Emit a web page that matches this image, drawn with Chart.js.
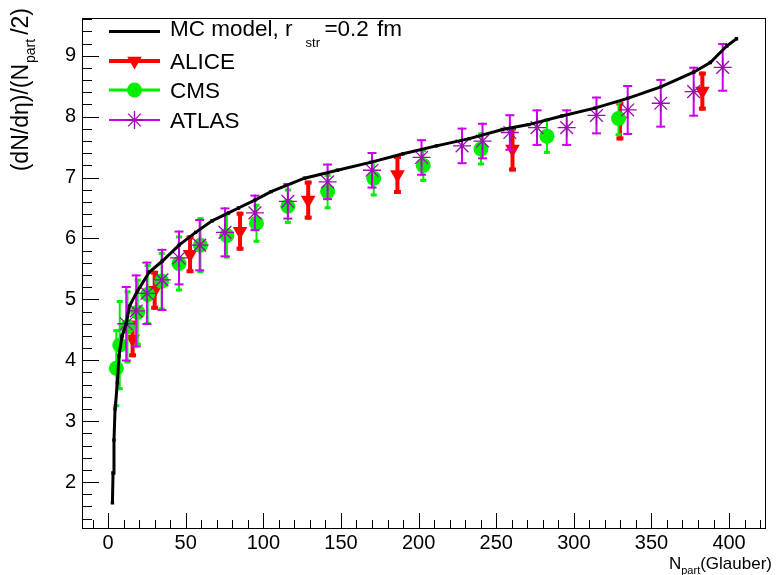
<!DOCTYPE html>
<html>
<head>
<meta charset="utf-8">
<script src="https://cdn.jsdelivr.net/npm/chart.js@4.4.1/dist/chart.umd.min.js"></script>
<style>
  html, body { margin: 0; padding: 0; background: #fff; }
  #c { display: block; }
</style>
</head>
<body>
<canvas id="c" width="776" height="575"></canvas>
<script>
// MC model curve: charged multiplicity per participant pair vs N_part
const MC_NPART = [2.8, 3.2, 3.8, 4.5, 6.0, 7.0, 9.0, 11.7, 13.8, 19.0, 26.6, 35.0, 45.7, 56.4, 67.0,
                  77.6, 84.0, 94.6, 105.0, 126.5, 147.7, 169.0, 190.0, 211.5, 232.7, 254.0, 271.0,
                  292.3, 313.5, 334.7, 356.0, 377.2, 387.9, 398.5, 404.8];
const MC_VALUE = [1.66, 2.15, 2.69, 3.20, 3.63, 4.07, 4.40, 4.60, 4.89, 5.14, 5.45, 5.63, 5.89, 6.10, 6.29,
                  6.42, 6.50, 6.63, 6.77, 6.99, 7.12, 7.25, 7.39, 7.52, 7.64, 7.79, 7.87,
                  8.01, 8.14, 8.30, 8.49, 8.73, 8.89, 9.16, 9.28];

// ALICE Pb-Pb data
const ALICE_NPART = [15.8, 30.0, 52.8, 85.0, 128.9, 186.4, 260.5, 329.7, 382.8];
const ALICE_VALUE = [4.35, 5.15, 5.74, 6.12, 6.63, 7.05, 7.47, 7.93, 8.42];
const ALICE_ERR   = [0.30, 0.32, 0.31, 0.32, 0.32, 0.32, 0.37, 0.32, 0.32];

// CMS Pb-Pb data
const CMS_NPART = [5.3, 7.5, 12.5, 19.1, 25.5, 34.5, 45.7, 59.5, 76.5, 95.6, 115.8, 141.4, 171.1, 203.0, 240.2, 282.7, 328.8];
const CMS_VALUE = [3.87, 4.25, 4.55, 4.79, 5.08, 5.30, 5.59, 5.89, 6.05, 6.25, 6.53, 6.77, 6.99, 7.20, 7.47, 7.68, 7.97];
const CMS_ERR   = [0.64, 0.74, 0.60, 0.55, 0.50, 0.48, 0.46, 0.46, 0.38, 0.32, 0.29, 0.29, 0.30, 0.27, 0.27, 0.29, 0.29];

// ATLAS Pb-Pb data
const ATLAS_NPART = [11.7, 18.1, 25.0, 34.7, 45.7, 59.0, 75.3, 94.6, 115.8, 141.4, 170.0, 201.9, 228.0, 241.2,
                     258.8, 276.3, 295.4, 314.6, 334.7, 356.0, 377.2, 395.9];
const ATLAS_VALUE = [4.60, 4.81, 5.10, 5.32, 5.68, 5.89, 6.10, 6.42, 6.61, 6.93, 7.12, 7.33, 7.52, 7.60,
                     7.74, 7.82, 7.82, 8.02, 8.11, 8.22, 8.41, 8.81];
const ATLAS_ERR   = [0.62, 0.60, 0.52, 0.51, 0.45, 0.43, 0.41, 0.30, 0.30, 0.30, 0.30, 0.30, 0.30, 0.30,
                     0.30, 0.30, 0.30, 0.31, 0.41, 0.40, 0.41, 0.40];

// Axis ticks
const X_TICKS = [0, 50, 100, 150, 200, 250, 300, 350, 400];
const Y_TICKS = [2, 3, 4, 5, 6, 7, 8, 9];
const X_MINOR_STEP = 10;
const Y_MINOR_STEP = 0.2;

const FONT = '"Liberation Sans", Arial, Helvetica, sans-serif';
const RED = '#ff0000', GREEN = '#00ee00', VIOLET = '#cc00ee', VIOLET_DARK = '#9c0cb0';

const pts = (xs, ys) => xs.map((x, i) => ({ x, y: ys[i] }));

// vertical error bars with end caps, drawn beneath each dataset's markers
function drawErrors(chart, ds) {
  const ctx = chart.ctx, xs = chart.scales.x, ys = chart.scales.y, st = ds.errStyle;
  const a = chart.chartArea;
  ctx.save();
  ctx.beginPath();
  ctx.rect(a.left, a.top, a.right - a.left, a.bottom - a.top);
  ctx.clip();
  ctx.fillStyle = st.color;
  ds.data.forEach((p, i) => {
    const px = xs.getPixelForValue(p.x);
    const top = ys.getPixelForValue(p.y + ds.errors[i]);
    const bot = ys.getPixelForValue(p.y - ds.errors[i]);
    ctx.fillRect(px - st.width / 2, top, st.width, bot - top);
    ctx.fillRect(px - st.cap / 2, top, st.cap, st.capH);
    ctx.fillRect(px - st.cap / 2, bot - st.capH, st.cap, st.capH);
  });
  ctx.restore();
}

function drawMarker(ctx, style, x, y) {
  ctx.save();
  if (style === 'triangleDown') {
    const r = 8.5;
    ctx.fillStyle = RED;
    ctx.beginPath();
    ctx.moveTo(x - r * 0.866, y - r * 0.5);
    ctx.lineTo(x + r * 0.866, y - r * 0.5);
    ctx.lineTo(x, y + r);
    ctx.closePath();
    ctx.fill();
  } else if (style === 'circle') {
    ctx.fillStyle = GREEN;
    ctx.beginPath();
    ctx.arc(x, y, 7.5, 0, Math.PI * 2);
    ctx.fill();
  } else if (style === 'star') {
    const r = 9;
    ctx.strokeStyle = VIOLET_DARK;
    ctx.lineWidth = 1.3;
    ctx.beginPath();
    ctx.moveTo(x - r, y); ctx.lineTo(x + r, y);
    ctx.moveTo(x, y - r); ctx.lineTo(x, y + r);
    const d = r * Math.SQRT1_2;
    ctx.moveTo(x - d, y - d); ctx.lineTo(x + d, y + d);
    ctx.moveTo(x - d, y + d); ctx.lineTo(x + d, y - d);
    ctx.stroke();
  }
  ctx.restore();
}

// text runs [text, isSub, gapAfter]
function runWidth(ctx, runs, size, subSize) {
  let w = 0;
  runs.forEach(r => {
    ctx.font = (r[1] ? subSize : size) + 'px ' + FONT;
    w += ctx.measureText(r[0]).width + (r[2] || 0);
  });
  return w;
}
function drawRuns(ctx, runs, x, y, size, subSize, subDrop) {
  runs.forEach(r => {
    ctx.font = (r[1] ? subSize : size) + 'px ' + FONT;
    ctx.fillText(r[0], x, r[1] ? y + subDrop : y);
    x += ctx.measureText(r[0]).width + (r[2] || 0);
  });
}

const decorations = {
  id: 'decorations',
  beforeDatasetDraw(chart, args) {
    const ds = chart.data.datasets[args.index];
    if (ds.errors) drawErrors(chart, ds);
  },
  afterDraw(chart) {
    const ctx = chart.ctx, a = chart.chartArea, xs = chart.scales.x, ys = chart.scales.y;
    ctx.save();
    // frame
    ctx.strokeStyle = '#000';
    ctx.lineWidth = 1;
    ctx.strokeRect(Math.round(a.left) + 0.5, Math.round(a.top) + 0.5,
                   Math.round(a.right - a.left) - 1, Math.round(a.bottom - a.top) - 1);
    // inward ticks, x axis
    ctx.beginPath();
    const x0 = Math.ceil(xs.min / X_MINOR_STEP) * X_MINOR_STEP;
    for (let v = x0; v <= xs.max + 1e-9; v += X_MINOR_STEP) {
      const major = Math.abs(v / 50 - Math.round(v / 50)) < 1e-6;
      const px = Math.round(xs.getPixelForValue(v)) + 0.5;
      ctx.moveTo(px, a.bottom);
      ctx.lineTo(px, a.bottom - (major ? 16 : 9));
    }
    // inward ticks, y axis
    const y0 = Math.ceil(ys.min / Y_MINOR_STEP) * Y_MINOR_STEP;
    for (let v = y0; v <= ys.max + 1e-9; v += Y_MINOR_STEP) {
      const major = Math.abs(v - Math.round(v)) < 1e-6;
      const py = Math.round(ys.getPixelForValue(v)) + 0.5;
      ctx.moveTo(a.left, py);
      ctx.lineTo(a.left + (major ? 17 : 10), py);
    }
    ctx.stroke();

    // axis titles
    ctx.fillStyle = '#000';
    ctx.textBaseline = 'alphabetic';
    ctx.textAlign = 'left';
    const xt = [['N', false, 0], ['part', true, 0], ['(Glauber)', false, 0]];
    const xw = runWidth(ctx, xt, 17, 11);
    drawRuns(ctx, xt, 772 - xw, 569, 17, 11, 5);

    const yt = [['(dN/d\u03b7)/(N', false, 1], ['part', true, 4], ['/2)', false, 0]];
    const yw = runWidth(ctx, yt, 23, 14);
    ctx.save();
    ctx.translate(28, 8 + yw);
    ctx.rotate(-Math.PI / 2);
    drawRuns(ctx, yt, 0, 0, 23, 14, 7);
    ctx.restore();

    // legend
    const LEG = 22.5, LEG_SUB = 13;
    ctx.strokeStyle = '#000';
    ctx.lineWidth = 3;
    ctx.beginPath(); ctx.moveTo(109, 31.5); ctx.lineTo(160, 31.5); ctx.stroke();
    ctx.fillStyle = '#000';
    drawRuns(ctx, [['MC model, r', false, 13], ['str', true, 4.5], ['=0.2', false, 8], ['fm', false, 0]],
             170, 36, LEG, LEG_SUB, 10.5);

    const entries = [
      { y: 61, color: RED, lw: 4, marker: 'triangleDown', text: 'ALICE' },
      { y: 90, color: GREEN, lw: 3, marker: 'circle', text: 'CMS' },
      { y: 120, color: VIOLET, lw: 2, marker: 'star', text: 'ATLAS' }
    ];
    entries.forEach(e => {
      ctx.strokeStyle = e.color;
      ctx.lineWidth = e.lw;
      ctx.beginPath();
      ctx.moveTo(109, e.y);
      ctx.lineTo(160, e.y);
      ctx.stroke();
      drawMarker(ctx, e.marker, 134.5, e.y);
      ctx.fillStyle = '#000';
      ctx.font = LEG + 'px ' + FONT;
      ctx.fillText(e.text, 170, e.y + 8);
    });
    ctx.restore();
  }
};

const tickFont = { family: FONT, size: 20 };

new Chart(document.getElementById('c'), {
  type: 'scatter',
  data: {
    datasets: [
      { label: 'MC model, r_str=0.2 fm', data: pts(MC_NPART, MC_VALUE), showLine: true,
        borderColor: '#000', borderWidth: 3, tension: 0,
        pointStyle: 'rect', pointRadius: 2.4, pointBackgroundColor: '#000', pointBorderWidth: 0 },
      { label: 'ATLAS', data: pts(ATLAS_NPART, ATLAS_VALUE), errors: ATLAS_ERR,
        errStyle: { color: VIOLET, width: 2, cap: 9, capH: 2 },
        pointStyle: 'star', pointRadius: 9, pointBorderColor: VIOLET_DARK, pointBorderWidth: 1.3,
        pointBackgroundColor: VIOLET_DARK },
      { label: 'CMS', data: pts(CMS_NPART, CMS_VALUE), errors: CMS_ERR,
        errStyle: { color: GREEN, width: 2, cap: 6, capH: 3 },
        pointStyle: 'circle', pointRadius: 7.5, pointBackgroundColor: GREEN, pointBorderWidth: 0 },
      { label: 'ALICE', data: pts(ALICE_NPART, ALICE_VALUE), errors: ALICE_ERR,
        errStyle: { color: RED, width: 4, cap: 7, capH: 4 },
        pointStyle: 'triangle', pointRotation: 180, pointRadius: 8.5, pointBackgroundColor: RED,
        pointBorderWidth: 0 }
    ]
  },
  options: {
    responsive: false,
    animation: false,
    devicePixelRatio: 1,
    events: [],
    layout: { padding: { top: 8, right: 3, left: 0, bottom: 0 } },
    plugins: { legend: { display: false }, tooltip: { enabled: false } },
    scales: {
      x: {
        type: 'linear', min: -16.8, max: 423.6,
        grid: { display: false, drawTicks: false }, border: { display: false },
        afterBuildTicks: s => { s.ticks = X_TICKS.map(value => ({ value })); },
        afterFit: s => { s.height = 46; },
        ticks: { font: tickFont, color: '#000', padding: 2, maxRotation: 0, autoSkip: false }
      },
      y: {
        type: 'linear', min: 1.23, max: 9.62,
        grid: { display: false, drawTicks: false }, border: { display: false },
        afterBuildTicks: s => { s.ticks = Y_TICKS.map(value => ({ value })); },
        afterFit: s => { s.width = 82; },
        ticks: { font: tickFont, color: '#000', padding: 6, autoSkip: false }
      }
    }
  },
  plugins: [decorations]
});
</script>
</body>
</html>
